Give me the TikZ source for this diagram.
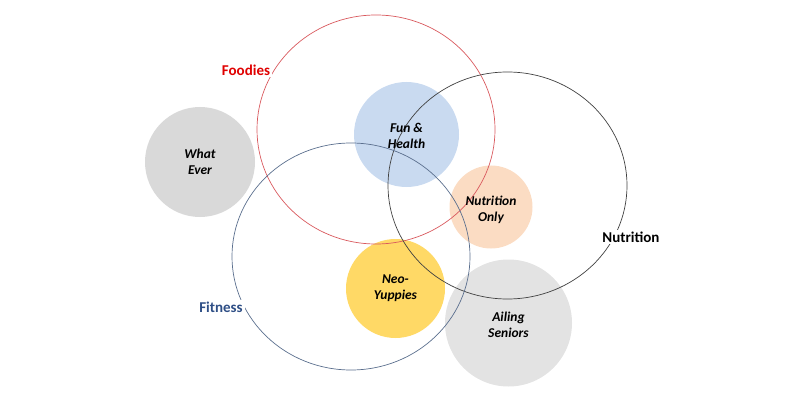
\documentclass[tikz,border=0pt]{standalone}
\usepackage{fontspec}
\setmainfont{Carlito}
\definecolor{redline}{HTML}{D9595E}
\definecolor{redtext}{HTML}{E00000}
\definecolor{blkline}{HTML}{404040}
\definecolor{blueline}{HTML}{5B6F8E}
\definecolor{bluetext}{HTML}{2F4F86}
\definecolor{fillgray}{HTML}{D9D9D9}
\definecolor{fillgray2}{HTML}{E3E3E3}
\definecolor{fillblue}{HTML}{C9DAF0}
\definecolor{fillpeach}{HTML}{FBDCC3}
\definecolor{fillyellow}{HTML}{FFD966}
\tikzset{
  blob/.style={circle, draw=none, inner sep=0pt},
  blobtext/.style={font=\fontsize{13.5}{16}\selectfont\bfseries\itshape, align=center, text=black},
  outline/.style={line width=0.7pt},
  setlabel/.style={fill=white, inner sep=2pt, font=\fontsize{15}{18}\selectfont\bfseries}
}
\begin{document}
\begin{tikzpicture}[x=1pt,y=-1pt]
\useasboundingbox (0,0) rectangle (806,401);
% filled circles
\node[blob, fill=fillgray, minimum size=110pt] (whatever) at (200,162) {};
\node[blob, fill=fillblue, minimum size=105pt] (funhealth) at (406.5,134.5) {};
\node[blob, fill=fillpeach, minimum size=83pt] (nutonly) at (491,207) {};
\node[blob, fill=fillyellow, minimum size=99pt] (neoyup) at (395.5,288.5) {};
\node[blob, fill=fillgray2, minimum size=127pt] (ailing) at (508.5,323) {};
% outlines
\draw[outline, redline] (376,129.5) ellipse [x radius=119, y radius=114.5];
\draw[outline, blkline] (507.5,185.5) ellipse [x radius=119.5, y radius=113.5];
\draw[outline, blueline] (351,256.5) ellipse [x radius=119, y radius=113.5];
% texts in circles
\node[blobtext] (twhatever) at (whatever) {What\\Ever};
\node[blobtext] (tfun) at (406.5,136) {Fun \&\\Health};
\node[blobtext] (tnut) at (491,210) {Nutrition\\Only};
\node[blobtext] (tneo) at (395.5,288) {Neo-\\Yuppies};
\node[blobtext] (tail) at (508.5,325) {Ailing\\Seniors};
% set labels
\node[setlabel, text=redtext] (foodies) at (246,70) {Foodies};
\node[setlabel, text=black] (nutrition) at (631,237) {Nutrition};
\node[setlabel, text=bluetext] (fitness) at (221,307) {Fitness};
\end{tikzpicture}
\end{document}
